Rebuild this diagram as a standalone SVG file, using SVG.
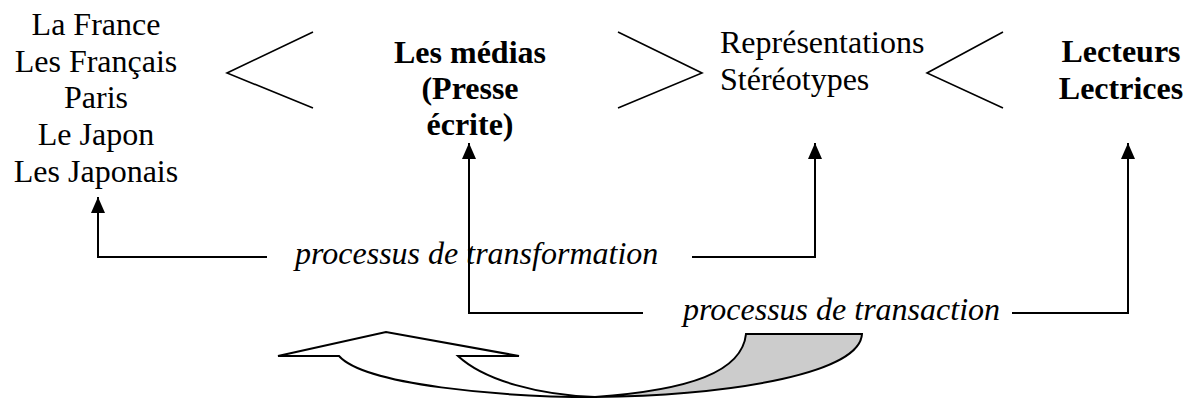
<svg xmlns="http://www.w3.org/2000/svg" width="1186" height="398" viewBox="0 0 1186 398">
  <defs>
    <style>
      text { font-family: 'Liberation Serif', 'Times New Roman', serif; font-size: 32px; fill: #000; }
      .b { font-weight: bold; }
      .i { font-style: italic; }
      .mid { text-anchor: middle; }
      .chev { fill: none; stroke: #000; stroke-width: 1.6; }
      .conn { fill: none; stroke: #000; stroke-width: 2; }
      .ribbon { stroke: #000; stroke-width: 2; stroke-linejoin: miter; }
    </style>
    <marker id="ah" viewBox="0 0 16 14" refX="16" refY="7" markerWidth="16" markerHeight="14" markerUnits="userSpaceOnUse" orient="auto">
      <path d="M0,0 L16,7 L0,14 Z" fill="#000"/>
    </marker>
  </defs>
  <rect width="1186" height="398" fill="#fff"/>

  <g id="node-lieux" font-family="Liberation Serif, serif">
    <text class="mid" x="96" y="35">La France</text>
    <text class="mid" x="96" y="72">Les Français</text>
    <text class="mid" x="96" y="108">Paris</text>
    <text class="mid" x="96" y="145">Le Japon</text>
    <text class="mid" x="96" y="182">Les Japonais</text>
  </g>

  <g id="node-medias" font-family="Liberation Serif, serif">
    <text class="b mid" x="470" y="63">Les médias</text>
    <text class="b mid" x="470" y="99">(Presse</text>
    <text class="b mid" x="470" y="135">écrite)</text>
  </g>

  <g id="node-representations" font-family="Liberation Serif, serif">
    <text x="720" y="53">Représentations</text>
    <text x="720" y="90">Stéréotypes</text>
  </g>

  <g id="node-lecteurs" font-family="Liberation Serif, serif">
    <text class="b mid" x="1121" y="62">Lecteurs</text>
    <text class="b mid" x="1121" y="99">Lectrices</text>
  </g>

  <g id="chevrons">
    <polyline class="chev" points="313,32 227,73 313,108"/>
    <polyline class="chev" points="618,32 702,73 618,108"/>
    <polyline class="chev" points="1003,32 927,73 1003,108"/>
  </g>

  <g id="connectors">
    <path class="conn" d="M267,257 H98 V197" marker-end="url(#ah)"/>
    <path class="conn" d="M692,257 H815 V143" marker-end="url(#ah)"/>
    <path class="conn" d="M643,313 H469 V143" marker-end="url(#ah)"/>
    <path class="conn" d="M1012,313 H1128 V143" marker-end="url(#ah)"/>
  </g>

  <g id="label-transformation" font-family="Liberation Serif, serif">
    <text class="i" x="295" y="264">processus de transformation</text>
  </g>
  <g id="label-transaction" font-family="Liberation Serif, serif">
    <text class="i" x="683" y="320">processus de transaction</text>
  </g>

  <g id="curved-arrow">
    <path class="ribbon" fill="#cccccc" d="M595,397 C690,390 742,372 746,334 L862,334 C860,372 740,395 595,397 Z"/>
    <path class="ribbon" fill="#ffffff" d="M278,356 L386,332 L519,356 L458,356 C485,381 540,395 595,397 C500,397 365,385 339,356 Z"/>
  </g>
</svg>
